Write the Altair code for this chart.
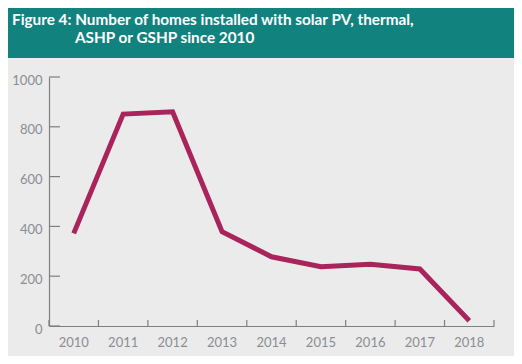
import altair as alt
import pandas as pd

years = ["2010", "2011", "2012", "2013", "2014", "2015", "2016", "2017", "2018"]
homes = [372, 851, 860, 379, 278, 238, 248, 229, 21]
y_ticks = [0, 200, 400, 600, 800, 1000]
title_line1 = "Figure 4: Number of homes installed with solar PV, thermal,"
title_line2 = "ASHP or GSHP since 2010"

TEAL = "#12827f"
LINE = "#a8245a"
AXIS = "#7f7f7f"
LABEL = "#8a8d92"
BG = "#ebebeb"
FONT = "Lato"

W, H = 445, 249

df = pd.DataFrame({"year": years, "homes": homes})
base = alt.Chart(df)

x_scale = alt.Scale(paddingInner=0, paddingOuter=0)
y_scale = alt.Scale(domain=[0, 1000])

x_axis = alt.Axis(title=None, labelAngle=0, ticks=False, tickSize=0,
                  domainColor=AXIS, domainWidth=1.2, labelColor=LABEL,
                  labelFont=FONT, labelFontSize=13, labelPadding=10, grid=False)
y_axis = alt.Axis(title=None, values=y_ticks, format="d", ticks=False, tickSize=0,
                  domainColor=AXIS, domainWidth=1.2, labelColor=LABEL,
                  labelFont=FONT, labelFontSize=13, labelPadding=7,
                  labelOffset=3, grid=False)

line = base.mark_line(color=LINE, strokeWidth=5, strokeJoin="miter").encode(
    x=alt.X("year:N", sort=years, scale=x_scale, axis=x_axis),
    y=alt.Y("homes:Q", scale=y_scale, axis=y_axis),
)

ytick_rules = alt.Chart(pd.DataFrame({"tick": y_ticks})).mark_rule(
    color=AXIS, strokeWidth=1.2).encode(
    y=alt.Y("tick:Q", scale=y_scale, axis=y_axis),
    x=alt.value(0), x2=alt.value(11),
)

xtick_rules = base.mark_rule(color=AXIS, strokeWidth=1.2).encode(
    x=alt.X("year:N", sort=years, scale=x_scale, bandPosition=0, axis=x_axis),
    y=alt.value(H), y2=alt.value(H - 6),
)

xtick_end = base.transform_filter(alt.datum.year == years[-1]).mark_rule(
    color=AXIS, strokeWidth=1.2).encode(
    x=alt.X("year:N", sort=years, scale=x_scale, bandPosition=1, axis=x_axis),
    y=alt.value(H), y2=alt.value(H - 6),
)

band = alt.Chart(pd.DataFrame({"a": [0]})).mark_rect(color=TEAL).encode(
    x=alt.value(-41), x2=alt.value(W + 20), y=alt.value(-69), y2=alt.value(-19)
)

t1 = alt.Chart(pd.DataFrame({"a": [0]})).mark_text(
    align="left", baseline="alphabetic", font=FONT, fontWeight="bold",
    fontSize=15.3, color="white").encode(
    x=alt.value(-37), y=alt.value(-52), text=alt.value(title_line1))

t2 = alt.Chart(pd.DataFrame({"a": [0]})).mark_text(
    align="left", baseline="alphabetic", font=FONT, fontWeight="bold",
    fontSize=15.3, color="white").encode(
    x=alt.value(26), y=alt.value(-34), text=alt.value(title_line2))

chart = alt.layer(line, ytick_rules, xtick_rules, xtick_end, band, t1, t2).properties(
    width=W, height=H,
    autosize=alt.AutoSizeParams(type="none"),
    padding={"left": 41, "top": 69, "right": 20, "bottom": 30},
    background=BG,
).configure_view(stroke=None)

chart.save("out.html", embed_options={"renderer": "svg", "actions": False})
